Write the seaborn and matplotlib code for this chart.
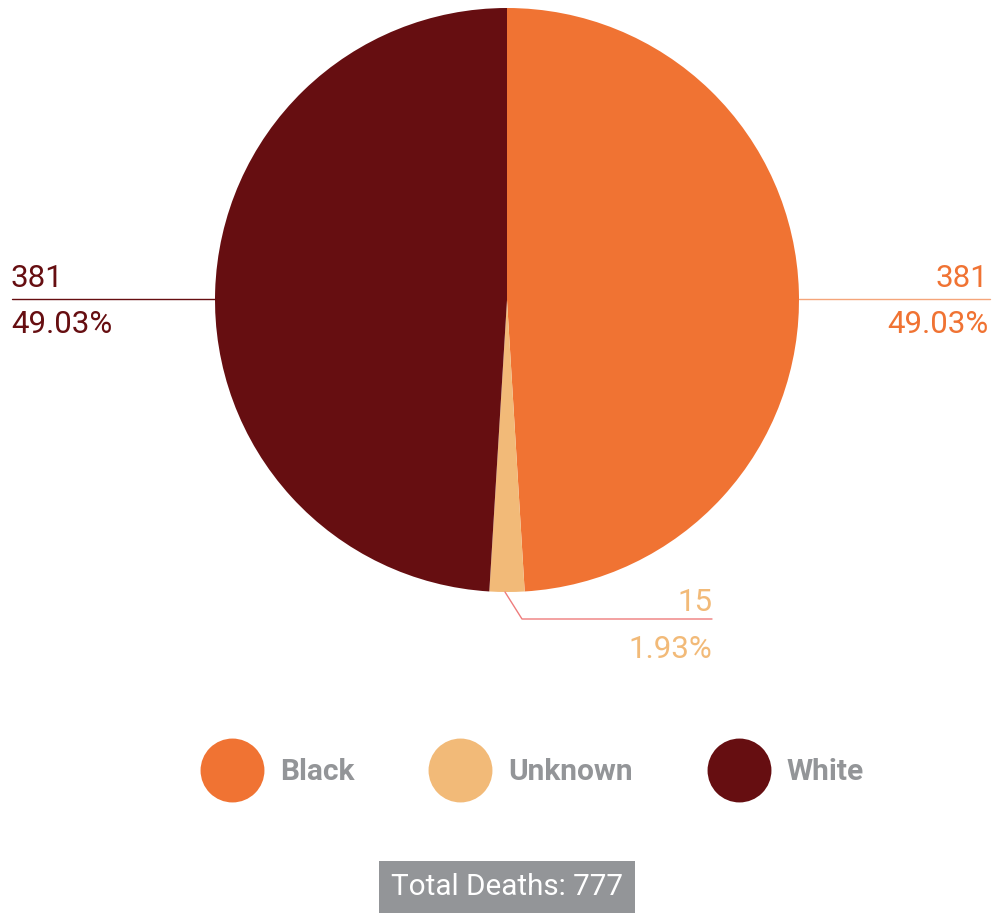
import matplotlib
matplotlib.use("Agg")
import matplotlib.pyplot as plt
from matplotlib.lines import Line2D
import seaborn as sns

# data
categories = ["Black", "Unknown", "White"]
deaths = [381, 15, 381]
colors = ["#F07333", "#F2BA78", "#660E11"]
line_colors = ["#F5A57A", "#EE7C7C", "#660E11"]
total_label = "Total Deaths: 777"

sns.set_theme(style="white")
plt.rcParams["font.family"] = ["Roboto", "DejaVu Sans"]

W, H = 995, 914
fig = plt.figure(figsize=(W / 100, H / 100), dpi=100)
ax = fig.add_axes([0, 0, 1, 1])

cx, cy, r = 507, H - 300, 292
wedges, _ = ax.pie(deaths, colors=colors, startangle=90, counterclock=False,
                   center=(cx, cy), radius=r, frame=True,
                   wedgeprops=dict(linewidth=0))
ax.set_xlim(0, W)
ax.set_ylim(0, H)
ax.set_aspect("equal")
ax.axis("off")

total = sum(deaths)
pcts = [f"{v / total * 100:.2f}%" for v in deaths]

def Y(py):
    return H - py

lab = dict(fontsize=22.5, fontweight="normal")

# Black (right)
ax.plot([cx + r, 990], [Y(299), Y(299)], color=line_colors[0], lw=1)
ax.text(988, Y(287), str(deaths[0]), ha="right", va="baseline",
        color=colors[0], **lab)
ax.text(988, Y(333), pcts[0], ha="right", va="baseline",
        color=colors[0], **lab)

# White (left)
ax.plot([12, cx - r], [Y(299), Y(299)], color=line_colors[2], lw=1)
ax.text(11, Y(287), str(deaths[2]), ha="left", va="baseline",
        color=colors[2], **lab)
ax.text(11, Y(333), pcts[2], ha="left", va="baseline",
        color=colors[2], **lab)

# Unknown (bottom)
ax.plot([505, 522, 712], [Y(592), Y(619), Y(619)], color=line_colors[1], lw=1)
ax.text(712, Y(611), str(deaths[1]), ha="right", va="baseline",
        color=colors[1], **lab)
ax.text(712, Y(658), pcts[1], ha="right", va="baseline",
        color=colors[1], **lab)

# legend
handles = [Line2D([], [], marker="o", linestyle="none", markersize=46,
                  markerfacecolor=c, markeredgewidth=0) for c in colors]
leg = fig.legend(handles, categories, loc="center", ncol=3,
                 bbox_to_anchor=(0.5 + 34 / W, 1 - 772 / H), frameon=False,
                 handlelength=2.2, handletextpad=0.5, columnspacing=2.45,
                 prop=dict(family="Roboto", weight="bold", size=21.5))
for t in leg.get_texts():
    t.set_color("#939598")

# total box
ax.text(cx, Y(887), total_label, ha="center", va="center", fontsize=21.3,
        color="white", fontweight="normal",
        bbox=dict(boxstyle="square,pad=0.42", facecolor="#939598",
                  edgecolor="none"))

fig.savefig("out.png", dpi=100)
